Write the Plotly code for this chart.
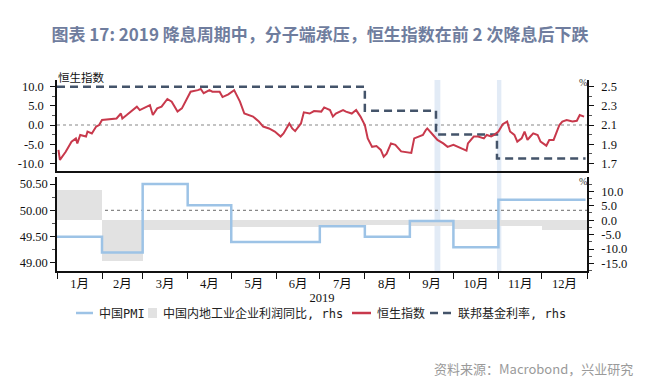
import plotly.graph_objects as go

# ---------------- data ----------------
hsi_dates = [
    "2019-01-02", "2019-01-03", "2019-01-07", "2019-01-09", "2019-01-11", "2019-01-14", "2019-01-15",
    "2019-01-17", "2019-01-21", "2019-01-22", "2019-01-25", "2019-01-28", "2019-01-30", "2019-02-01",
    "2019-02-11", "2019-02-14", "2019-02-15", "2019-02-18", "2019-02-25", "2019-02-27", "2019-03-04",
    "2019-03-06", "2019-03-08", "2019-03-11", "2019-03-14", "2019-03-18", "2019-03-21", "2019-03-25",
    "2019-03-28", "2019-04-01", "2019-04-03", "2019-04-08", "2019-04-10", "2019-04-12", "2019-04-16",
    "2019-04-18", "2019-04-23", "2019-04-25", "2019-04-29", "2019-05-03", "2019-05-07", "2019-05-10",
    "2019-05-14", "2019-05-16", "2019-05-20", "2019-05-23", "2019-05-27", "2019-05-31", "2019-06-04",
    "2019-06-06", "2019-06-10", "2019-06-12", "2019-06-14", "2019-06-18", "2019-06-20", "2019-06-24",
    "2019-06-27", "2019-07-02", "2019-07-04", "2019-07-08", "2019-07-10", "2019-07-12", "2019-07-17",
    "2019-07-19", "2019-07-23", "2019-07-26", "2019-07-29", "2019-08-01", "2019-08-03", "2019-08-06",
    "2019-08-09", "2019-08-12", "2019-08-14", "2019-08-16", "2019-08-19", "2019-08-22", "2019-08-26",
    "2019-08-29", "2019-09-02", "2019-09-04", "2019-09-08", "2019-09-10", "2019-09-12", "2019-09-13",
    "2019-09-17", "2019-09-20", "2019-09-24", "2019-09-27", "2019-10-01", "2019-10-04", "2019-10-08",
    "2019-10-10", "2019-10-11", "2019-10-15", "2019-10-18", "2019-10-22", "2019-10-24", "2019-10-27",
    "2019-10-29", "2019-11-01", "2019-11-04", "2019-11-07", "2019-11-09", "2019-11-12", "2019-11-14",
    "2019-11-17", "2019-11-19", "2019-11-21", "2019-11-23", "2019-11-25", "2019-11-28", "2019-11-30",
    "2019-12-04", "2019-12-06", "2019-12-09", "2019-12-13", "2019-12-15", "2019-12-18", "2019-12-22",
    "2019-12-25", "2019-12-27", "2019-12-30",
]
hsi_values = [
    -6.5, -9.1, -7.0, -5.7, -4.35, -3.5, -4.8,
    -2.6, -3.0, -1.7, -2.2, -0.4, 0.0, 1.3,
    1.7, 3.0, 1.7, 2.6, 4.8, 3.9, 4.8,
    5.2, 2.6, 4.35, 4.8, 6.8, 6.1, 3.5,
    4.35, 7.4, 8.7, 9.1, 9.4, 8.3, 9.1,
    8.7, 8.7, 7.3, 8.0, 9.1, 6.1, 3.0,
    2.6, 2.2, 0.9, -0.4, -0.9, -1.7, -3.0,
    -2.2, 0.4, -0.9, -1.6, 0.4, 3.3, 3.0,
    3.65, 3.5, 4.6, 3.9, 2.2, 3.0, 3.9,
    3.5, 3.0, 3.9, 2.2, 0.0, -3.5, -5.7,
    -5.5, -6.5, -8.3, -7.5, -4.8, -5.2, -6.9,
    -7.0, -7.3, -3.5, -3.0, -2.6, -1.3, -0.9,
    -2.6, -3.9, -4.8, -5.7, -5.2, -5.7, -6.5,
    -6.7, -4.8, -3.0, -3.0, -3.5, -2.6, -3.0,
    -2.6, -1.7, 0.2, 0.9, -1.7, -2.6, -4.35,
    -3.5, -1.7, -3.9, -3.0, -2.2, -2.6, -4.35,
    -5.4, -3.9, -3.9, 0.0, 0.9, 1.3, 0.9,
    1.1, 2.6, 2.2,
]

fed_dates = ["2019-01-01", "2019-08-01", "2019-09-19", "2019-10-31", "2019-12-31"]
fed_values = [2.5, 2.25, 2.0, 1.75, 1.75]

month_starts = ["2019-01-01", "2019-02-01", "2019-03-01", "2019-04-01", "2019-05-01", "2019-06-01",
                "2019-07-01", "2019-08-01", "2019-09-01", "2019-10-01", "2019-11-01", "2019-12-01"]
month_days = [31, 28, 31, 30, 31, 30, 31, 31, 30, 31, 30, 31]
pmi_values = [49.5, 49.2, 50.5, 50.1, 49.4, 49.4, 49.7, 49.5, 49.8, 49.3, 50.2, 50.2]
profit_values = [10.3, -14.0, -3.3, -3.4, -2.3, -2.4, -1.7, -1.7, -2.1, -2.9, -2.1, -3.3]
series_end = "2019-12-31"

cut_bands = [("2019-09-18", "2019-09-22"), ("2019-10-31", "2019-11-03")]

hsi_ticks = [-10, -5, 0, 5, 10]
hsi_ticktext = ["-10.0", "-5.0", "0.0", "5.0", "10.0"]
fed_ticks = [1.7, 1.9, 2.1, 2.3, 2.5]
fed_ticktext = ["1.7", "1.9", "2.1", "2.3", "2.5"]
pmi_ticks = [49.0, 49.5, 50.0, 50.5]
pmi_ticktext = ["49.00", "49.50", "50.00", "50.50"]
profit_ticks = [-15, -10, -5, 0, 5, 10]
profit_ticktext = ["-15.0", "-10.0", "-5.0", "0.0", "5.0", "10.0"]

title_text = "图表 17: 2019 降息周期中，分子端承压，恒生指数在前 2 次降息后下跌"
source_text = "资料来源：Macrobond，兴业研究"
name_pmi = "中国PMI"
name_profit = "中国内地工业企业利润同比, rhs"
name_hsi = "恒生指数"
name_fed = "联邦基金利率, rhs"

# ---------------- styles / geometry ----------------
SERIF = "Liberation Serif, Noto Sans CJK SC"
CJK = "Noto Sans CJK SC"
LEG = "DejaVu Sans Mono, Noto Sans CJK SC"
C_PMI = "#9dc3e6"
C_PROFIT = "#e2e2e2"
C_HSI = "#c8394c"
C_FED = "#44546a"

# page offset of the figure div (body margin) and plot area in page pixels
OFF = 8
PX0, PX1, PY0, PY1 = 57, 587, 80, 271
W, H = 656 - OFF, 382 - OFF


def px(x):
    return (x - PX0) / (PX1 - PX0)


def py(y):
    return (PY1 - y) / (PY1 - PY0)


fig = go.Figure()

fig.add_trace(go.Bar(
    x=month_starts, y=profit_values, width=[d * 86400000 for d in month_days], offset=0,
    marker=dict(color=C_PROFIT, line=dict(width=0)), name=name_profit,
    xaxis="x2", yaxis="y3", showlegend=False,
))
fig.add_trace(go.Scatter(
    x=month_starts + [series_end], y=pmi_values + [pmi_values[-1]], mode="lines",
    line=dict(color=C_PMI, width=2.5, shape="hv"), name=name_pmi,
    xaxis="x2", yaxis="y4", showlegend=False,
))
fig.add_trace(go.Scatter(
    x=fed_dates, y=fed_values, mode="lines",
    line=dict(color=C_FED, width=2.5, shape="hv", dash="8px,5px"), name=name_fed,
    xaxis="x", yaxis="y", showlegend=False,
))
fig.add_trace(go.Scatter(
    x=hsi_dates, y=hsi_values, mode="lines",
    line=dict(color=C_HSI, width=2), name=name_hsi,
    xaxis="x", yaxis="y2", showlegend=False,
))

x_range = ["2019-01-01", "2020-01-01"]
tickfont = dict(family=SERIF, size=12.5, color="#111")
common_y = dict(showline=True, linecolor="#111", linewidth=1.5, ticks="outside", ticklen=5,
                tickcolor="#111", showgrid=False, zeroline=False, tickfont=tickfont, tickmode="array")

fig.update_layout(
    width=W, height=H,
    margin=dict(l=PX0 - OFF, r=656 - PX1, t=PY0 - OFF, b=382 - PY1, autoexpand=False),
    paper_bgcolor="white", plot_bgcolor="white",
    barmode="overlay", bargap=0,
    showlegend=False,
    title=dict(text=title_text, x=(320 - OFF) / W, y=1 - (35 - OFF) / H, xref="container", yref="container",
               xanchor="center", yanchor="middle",
               font=dict(family=CJK, size=17, color="#6f7d9e", weight="bold")),
    xaxis=dict(domain=[0, 1], anchor="y", range=x_range, type="date", showline=True,
               linecolor="#111", linewidth=1.5, ticks="", showticklabels=False, showgrid=False,
               zeroline=False),
    xaxis2=dict(domain=[0, 1], anchor="y3", range=x_range, type="date", showline=True,
                linecolor="#111", linewidth=1.5, ticks="outside", ticklen=6, tickcolor="#111",
                dtick="M1", tick0="2019-01-01", ticklabelmode="period", tickformat="%-m月",
                ticklabelstandoff=-6,
                tickfont=dict(family=SERIF, size=12.5, color="#111"), showgrid=False, zeroline=False,
                title=dict(text="2019", font=dict(family=SERIF, size=12.5, color="#111"), standoff=0)),
    yaxis=dict(domain=[py(170.7), 1], anchor="x", side="right", range=[1.623, 2.57],
               tickvals=fed_ticks, ticktext=fed_ticktext, ticklabelstandoff=5,
               minor=dict(dtick=0.1, tick0=1.7, ticks="outside", ticklen=3, tickcolor="#555"), **common_y),
    yaxis2=dict(overlaying="y", anchor="x", side="left", range=[-11.93, 11.75],
                tickvals=hsi_ticks, ticktext=hsi_ticktext, ticklabelstandoff=4,
                minor=dict(dtick=2.5, tick0=0, ticks="outside", ticklen=3, tickcolor="#555"), **common_y),
    yaxis3=dict(domain=[0, py(177)], anchor="x2", side="right", range=[-17.6, 14.93],
                tickvals=profit_ticks, ticktext=profit_ticktext, ticklabelstandoff=5,
                minor=dict(dtick=2.5, tick0=0, ticks="outside", ticklen=3, tickcolor="#555"), **common_y),
    yaxis4=dict(overlaying="y3", anchor="x2", side="left", range=[48.847, 50.635],
                tickvals=pmi_ticks, ticktext=pmi_ticktext, ticklabelstandoff=0,
                minor=dict(dtick=0.25, tick0=49, ticks="outside", ticklen=3, tickcolor="#555"), **common_y),
)

# rate-cut bands spanning both panels
for b0, b1 in cut_bands:
    fig.add_shape(type="rect", xref="x", yref="paper", x0=b0, x1=b1, y0=0, y1=1,
                  fillcolor="#dde8f5", line=dict(width=0), layer="below", opacity=0.85)

# reference lines
fig.add_shape(type="line", xref="paper", yref="y2", x0=0, x1=1, y0=0, y1=0,
              line=dict(color="#888", width=1.2, dash="3px,3px"), layer="below")
fig.add_shape(type="line", xref="paper", yref="y4", x0=0, x1=1, y0=50, y1=50,
              line=dict(color="#888", width=1.2, dash="3px,3px"), layer="below")

# axis captions
fig.add_annotation(text="恒生指数", xref="paper", yref="paper", x=px(56), y=py(77),
                   xanchor="left", yanchor="middle", showarrow=False,
                   font=dict(family=CJK, size=11.5, color="#111"))
for yy in (83, 181):
    fig.add_annotation(text="%", xref="paper", yref="paper", x=px(589), y=py(yy),
                       xanchor="right", yanchor="middle", showarrow=False,
                       font=dict(family=SERIF, size=10, color="#333"))
fig.add_annotation(text=source_text, xref="paper", yref="paper", x=px(635), y=py(368),
                   xanchor="right", yanchor="middle", showarrow=False,
                   font=dict(family=CJK, size=13, color="#9a9a9a"))

# legend (drawn manually for compact symbols)
LY = 313
leg_font = dict(family=LEG, size=12, color="#222")
fig.add_shape(type="line", xref="paper", yref="paper", x0=px(76), x1=px(93), y0=py(LY), y1=py(LY),
              line=dict(color=C_PMI, width=2.5))
fig.add_annotation(text=name_pmi, xref="paper", yref="paper", x=px(97), y=py(LY),
                   xanchor="left", yanchor="middle", showarrow=False, font=leg_font)
fig.add_shape(type="rect", xref="paper", yref="paper", x0=px(148), x1=px(157), y0=py(318), y1=py(308),
              fillcolor=C_PROFIT, line=dict(width=0))
fig.add_annotation(text=name_profit, xref="paper", yref="paper", x=px(161), y=py(LY),
                   xanchor="left", yanchor="middle", showarrow=False, font=leg_font)
fig.add_shape(type="line", xref="paper", yref="paper", x0=px(352), x1=px(371), y0=py(LY), y1=py(LY),
              line=dict(color=C_HSI, width=2.5))
fig.add_annotation(text=name_hsi, xref="paper", yref="paper", x=px(375), y=py(LY),
                   xanchor="left", yanchor="middle", showarrow=False, font=leg_font)
fig.add_shape(type="line", xref="paper", yref="paper", x0=px(430), x1=px(451), y0=py(LY), y1=py(LY),
              line=dict(color=C_FED, width=2.5, dash="8px,5px"))
fig.add_annotation(text=name_fed, xref="paper", yref="paper", x=px(456), y=py(LY),
                   xanchor="left", yanchor="middle", showarrow=False, font=leg_font)

fig.write_html("out.html")
